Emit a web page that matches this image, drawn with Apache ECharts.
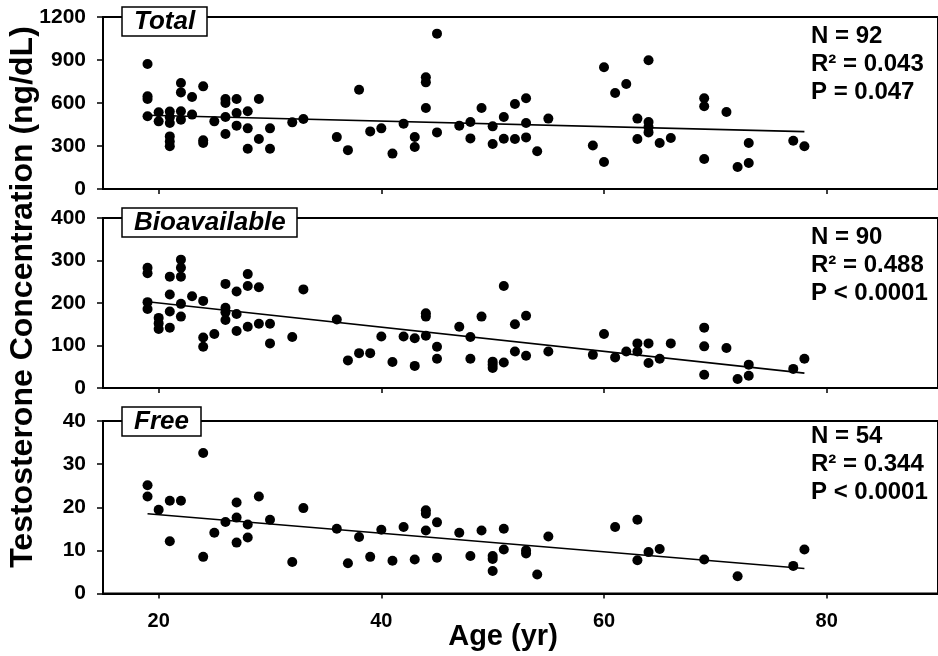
<!DOCTYPE html>
<html><head><meta charset="utf-8">
<script src="https://cdn.jsdelivr.net/npm/echarts@6/dist/echarts.min.js"></script>
<style>html,body{margin:0;padding:0;background:#fff}#c{width:938px;height:656px}</style>
</head><body><div id="c"></div>
<script>
// ---- data ----
const totalAge = [19,19,19,19,20,20,21,21,21,21,21,21,22,22,22,22,23,23,24,24,24,25,26,26,26,26,27,27,27,28,28,28,29,29,30,30,32,33,36,37,38,39,40,41,42,43,43,44,44,44,45,45,47,48,48,49,50,50,51,51,52,52,53,53,53,54,55,59,60,60,61,62,63,63,64,64,64,64,65,66,69,69,69,71,72,73,73,77,78];
const totalVal = [872,647,628,507,535,472,540,500,460,367,332,298,740,674,542,484,642,519,716,340,321,472,628,600,502,384,628,530,442,542,423,281,628,349,423,281,465,488,362,271,693,402,423,247,456,363,293,779,744,565,1084,395,442,467,353,565,437,314,502,351,593,349,633,460,360,263,491,304,850,188,670,733,491,349,898,467,433,395,321,356,633,577,209,537,153,321,181,337,298];
const bioAge = [19,19,19,19,20,20,20,21,21,21,21,22,22,22,22,22,23,24,24,24,25,26,26,26,26,27,27,27,28,28,28,29,29,30,30,32,33,36,37,38,39,40,41,42,43,43,44,44,44,45,45,47,48,48,49,50,50,50,51,51,52,52,53,53,55,59,60,61,62,63,63,64,64,65,66,69,69,69,71,72,73,73,77,78];
const bioVal = [283,270,202,186,165,152,139,262,220,180,142,302,283,262,198,168,216,205,119,97,127,245,189,178,160,227,174,134,268,240,144,237,151,151,105,120,232,161,65,82,82,121,61,121,117,52,176,168,123,97,69,144,120,69,168,62,55,47,240,60,150,86,170,76,86,78,127,72,86,105,86,105,59,69,105,142,98,31,94,21,55,29,45,69];
const freeAge = [19,19,20,21,21,22,24,24,25,26,27,27,27,28,28,29,30,32,33,36,37,38,39,40,41,42,43,44,44,44,45,45,47,48,49,50,50,50,51,51,53,53,54,55,61,63,63,64,65,69,72,77,78];
const freeVal = [25.1,22.5,19.4,21.5,12.1,21.5,32.6,8.5,14.1,16.6,21.1,17.6,11.8,16.0,13.0,22.5,17.1,7.3,19.8,15.0,7.0,13.1,8.5,14.8,7.6,15.4,7.9,19.3,18.5,14.6,16.5,8.3,14.1,8.7,14.6,8.7,8.0,5.2,15.0,10.2,10.0,9.3,4.4,13.2,15.4,17.1,7.7,9.6,10.3,7.9,4.0,6.4,10.2];
// regression line end points
const fitAge = [19, 78];
const totalFit = [515, 400];
const bioFit = [203, 35];
const freeFit = [18.5, 5.8];
// axes
const xTicks = [20, 40, 60, 80];
const yMax = [1200, 400, 40];
const yStep = [300, 100, 10];
// text
const panelNames = ['Total', 'Bioavailable', 'Free'];
const statsTotal = ['N = 92', 'R\u00B2 = 0.043', 'P = 0.047'];
const statsBio = ['N = 90', 'R\u00B2 = 0.488', 'P < 0.0001'];
const statsFree = ['N = 54', 'R\u00B2 = 0.344', 'P < 0.0001'];
const xTitle = 'Age (yr)';
const yTitle = 'Testosterone Concentration (ng/dL)';

// ---- chart ----
const FONT = '"Liberation Sans", Arial, Helvetica, sans-serif';
const zip = (a, b) => a.map((v, i) => [v, b[i]]);
const panels = [
  {age: totalAge, val: totalVal, fit: totalFit, stats: statsTotal},
  {age: bioAge, val: bioVal, fit: bioFit, stats: statsBio},
  {age: freeAge, val: freeVal, fit: freeFit, stats: statsFree}
];
const gridTops = [17, 218, 421];
const gridHeights = [172, 170, 172.5];
const titleTops = [7, 208, 407];
const statsTops = [36, 237, 436];

const option = {
  animation: false,
  backgroundColor: '#fff',
  title: panelNames.map((t, i) => ({
    text: t, left: 122, top: titleTops[i],
    backgroundColor: '#fff', borderColor: '#000', borderWidth: 1.5,
    padding: [2, 12, 1, 12],
    textStyle: {fontFamily: FONT, fontSize: 26, fontWeight: 'bold', fontStyle: 'italic', color: '#000'}
  })),
  grid: gridTops.map((t, i) => ({
    left: 103, width: 840, top: t, height: gridHeights[i],
    show: true, borderColor: '#000', borderWidth: 2, backgroundColor: 'transparent'
  })),
  xAxis: [0, 1, 2].map(i => ({
    type: 'value', gridIndex: i, min: 15, max: 90,
    axisLine: {show: true, onZero: false, lineStyle: {color: '#000', width: 2}},
    axisTick: {show: true, customValues: xTicks, length: 5, lineStyle: {color: '#000', width: 1.5}},
    axisLabel: {show: i === 2, customValues: xTicks, fontFamily: FONT, fontSize: 20, fontWeight: 'bold', color: '#000', margin: 18},
    splitLine: {show: false}
  })),
  yAxis: [0, 1, 2].map(i => ({
    type: 'value', gridIndex: i, min: 0, max: yMax[i], interval: yStep[i],
    axisLine: {show: true, lineStyle: {color: '#000', width: 2}},
    axisTick: {show: true, length: 6, lineStyle: {color: '#000', width: 1.5}},
    axisLabel: {fontFamily: FONT, fontSize: 21, fontWeight: 'bold', color: '#000', margin: 17,
      formatter: v => String(v)},
    splitLine: {show: false}
  })),
  series: [],
  graphic: []
};

panels.forEach((p, i) => {
  option.series.push({
    type: 'scatter', xAxisIndex: i, yAxisIndex: i,
    data: zip(p.age, p.val), symbol: 'circle', symbolSize: 10,
    itemStyle: {color: '#000', opacity: 1}, z: 3
  });
  option.series.push({
    type: 'line', xAxisIndex: i, yAxisIndex: i,
    data: zip(fitAge, p.fit), symbol: 'none',
    lineStyle: {color: '#000', width: 1.6}, z: 2
  });
  p.stats.forEach((s, k) => {
    option.graphic.push({
      type: 'text', left: 811, top: statsTops[i] + k * 28 - 12,
      style: {text: s, fontFamily: FONT, fontSize: 24, fontWeight: 'bold', fill: '#000'}
    });
  });
});

option.graphic.push({
  type: 'text', x: 503, y: 637,
  style: {text: xTitle, fontFamily: FONT, fontSize: 29, fontWeight: 'bold', fill: '#000', align: 'center', verticalAlign: 'middle'}
});
option.graphic.push({
  type: 'text', x: 23, y: 297, rotation: Math.PI / 2,
  style: {text: yTitle, fontFamily: FONT, fontSize: 32, fontWeight: 'bold', fill: '#000', align: 'center', verticalAlign: 'middle'}
});

const chart = echarts.init(document.getElementById('c'), null, {renderer: 'canvas'});
chart.setOption(option);
</script>
</body></html>
